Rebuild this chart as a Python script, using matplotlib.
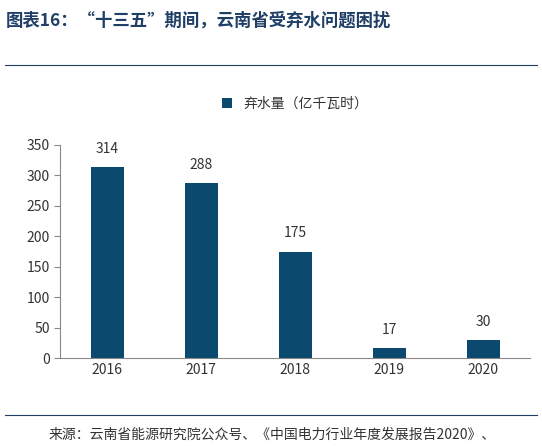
import matplotlib.pyplot as plt
from matplotlib.lines import Line2D

plt.rcParams['font.family'] = ['Noto Sans CJK SC', 'DejaVu Sans']

years = ["2016", "2017", "2018", "2019", "2020"]
curtailed = [314, 288, 175, 17, 30]

bar_color = "#0B4A6E"

fig = plt.figure(figsize=(5.42, 4.46), dpi=100)
ax = fig.add_axes([0.111, 0.197, 0.867, 0.478])

bars = ax.bar(years, curtailed, width=0.35, color=bar_color, label="弃水量（亿千瓦时）")
for b, v in zip(bars, curtailed):
    ax.annotate(str(v), (b.get_x() + b.get_width() / 2, v), xytext=(0, 8),
                textcoords="offset points", ha="center", va="bottom", fontsize=10, color="#333333")

ax.set_ylim(0, 350)
ax.set_yticks(range(0, 351, 50))
ax.set_xlim(-0.5, 4.5)
ax.tick_params(axis="both", labelsize=10, colors="#333333", length=0)
ax.tick_params(axis="y", length=4, direction="out", color="#888888")
for s in ["top", "right"]:
    ax.spines[s].set_visible(False)
for s in ["left", "bottom"]:
    ax.spines[s].set_color("#888888")

ax.legend(loc="lower center", bbox_to_anchor=(0.5, 1.1), frameon=False, fontsize=10,
          handlelength=0.7, handleheight=0.7, labelcolor="#333333")

fig.text(0.01, 0.955, "图表16：“十三五”期间，云南省受弃水问题困扰", fontsize=12.5,
         fontweight="bold", style="italic", color="#1F3F66", va="center")
fig.add_artist(Line2D([0.01, 0.99], [0.855, 0.855], color="#1F3F66", linewidth=0.8))
fig.add_artist(Line2D([0.01, 0.99], [0.07, 0.07], color="#1F3F66", linewidth=0.8))
fig.text(0.09, 0.025, "来源：云南省能源研究院公众号、《中国电力行业年度发展报告2020》、",
         fontsize=10, color="#333333", va="center")

fig.savefig("out.png", dpi=100)
